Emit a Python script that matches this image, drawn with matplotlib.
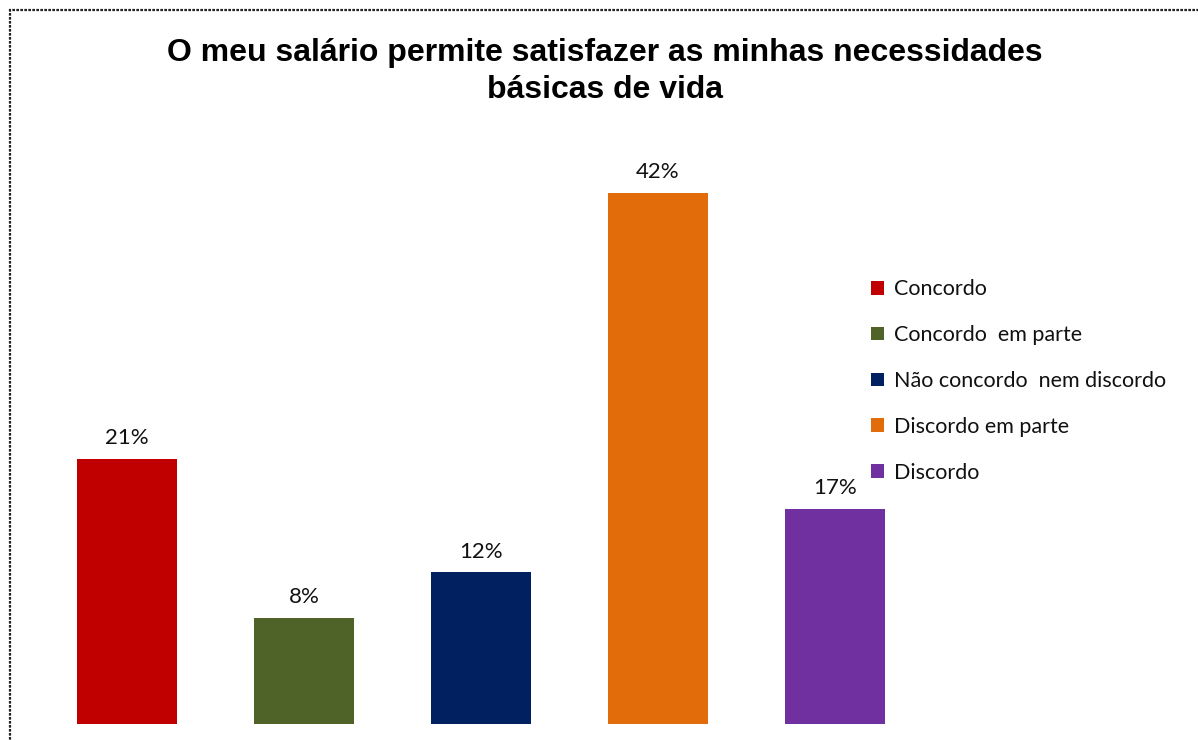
import matplotlib
matplotlib.use("Agg")
import matplotlib.pyplot as plt
from matplotlib.patches import Rectangle

# Data
categories = ["Concordo", "Concordo  em parte", "Não concordo  nem discordo",
              "Discordo em parte", "Discordo"]
values = [21, 8.4, 12, 42, 17]
colors = ["#C00000", "#4F6228", "#002060", "#E36C0A", "#7030A0"]

title = "O meu salário permite satisfazer as minhas necessidades\nbásicas de vida"

fig = plt.figure(figsize=(11.98, 7.40), dpi=100)
W, H = 1198, 740

# Axes placed in pixel terms
left_px, right_px, top_px, bottom_px = 40, 1160, 150, 724
ax = fig.add_axes([left_px / W, 1 - bottom_px / H,
                   (right_px - left_px) / W, (bottom_px - top_px) / H])

x = list(range(len(categories)))
bars = ax.bar(x, values, width=0.57, color=colors, label=categories)

# Data labels
for xi, v in zip(x, values):
    ax.text(xi, v + 0.85, f"{v:.0f}%", ha="center", va="bottom",
            fontsize=16, family="Lato", color="#111111")

ax.set_xlim((left_px - 127) / 177, (right_px - 127) / 177)
ax.set_ylim(0, (bottom_px - top_px) / 12.64)
ax.axis("off")

leg = fig.legend(handles=bars, labels=categories, loc="upper left",
                 bbox_to_anchor=(852 / W, 1 - 260 / H), frameon=False,
                 prop={"family": "Lato", "size": 15.5}, handlelength=0.6,
                 handleheight=0.6, handletextpad=0.45, labelspacing=1.2)
for t in leg.get_texts():
    t.set_color("#111111")

fig.text(605 / W, 1 - 71.5 / H, title, ha="center", va="center",
         fontsize=23, fontweight="bold", family="Liberation Sans",
         linespacing=1.29)

# Outer chart border (runs off the right and bottom of the picture)
fig.patches.append(Rectangle((10 / W, -0.05), 1.1, 1 - 10 / H + 0.05,
                             transform=fig.transFigure, fill=False,
                             edgecolor="#222222", linewidth=1.6,
                             linestyle=(0, (1.2, 0.6))))

fig.savefig("out.png", dpi=100)
